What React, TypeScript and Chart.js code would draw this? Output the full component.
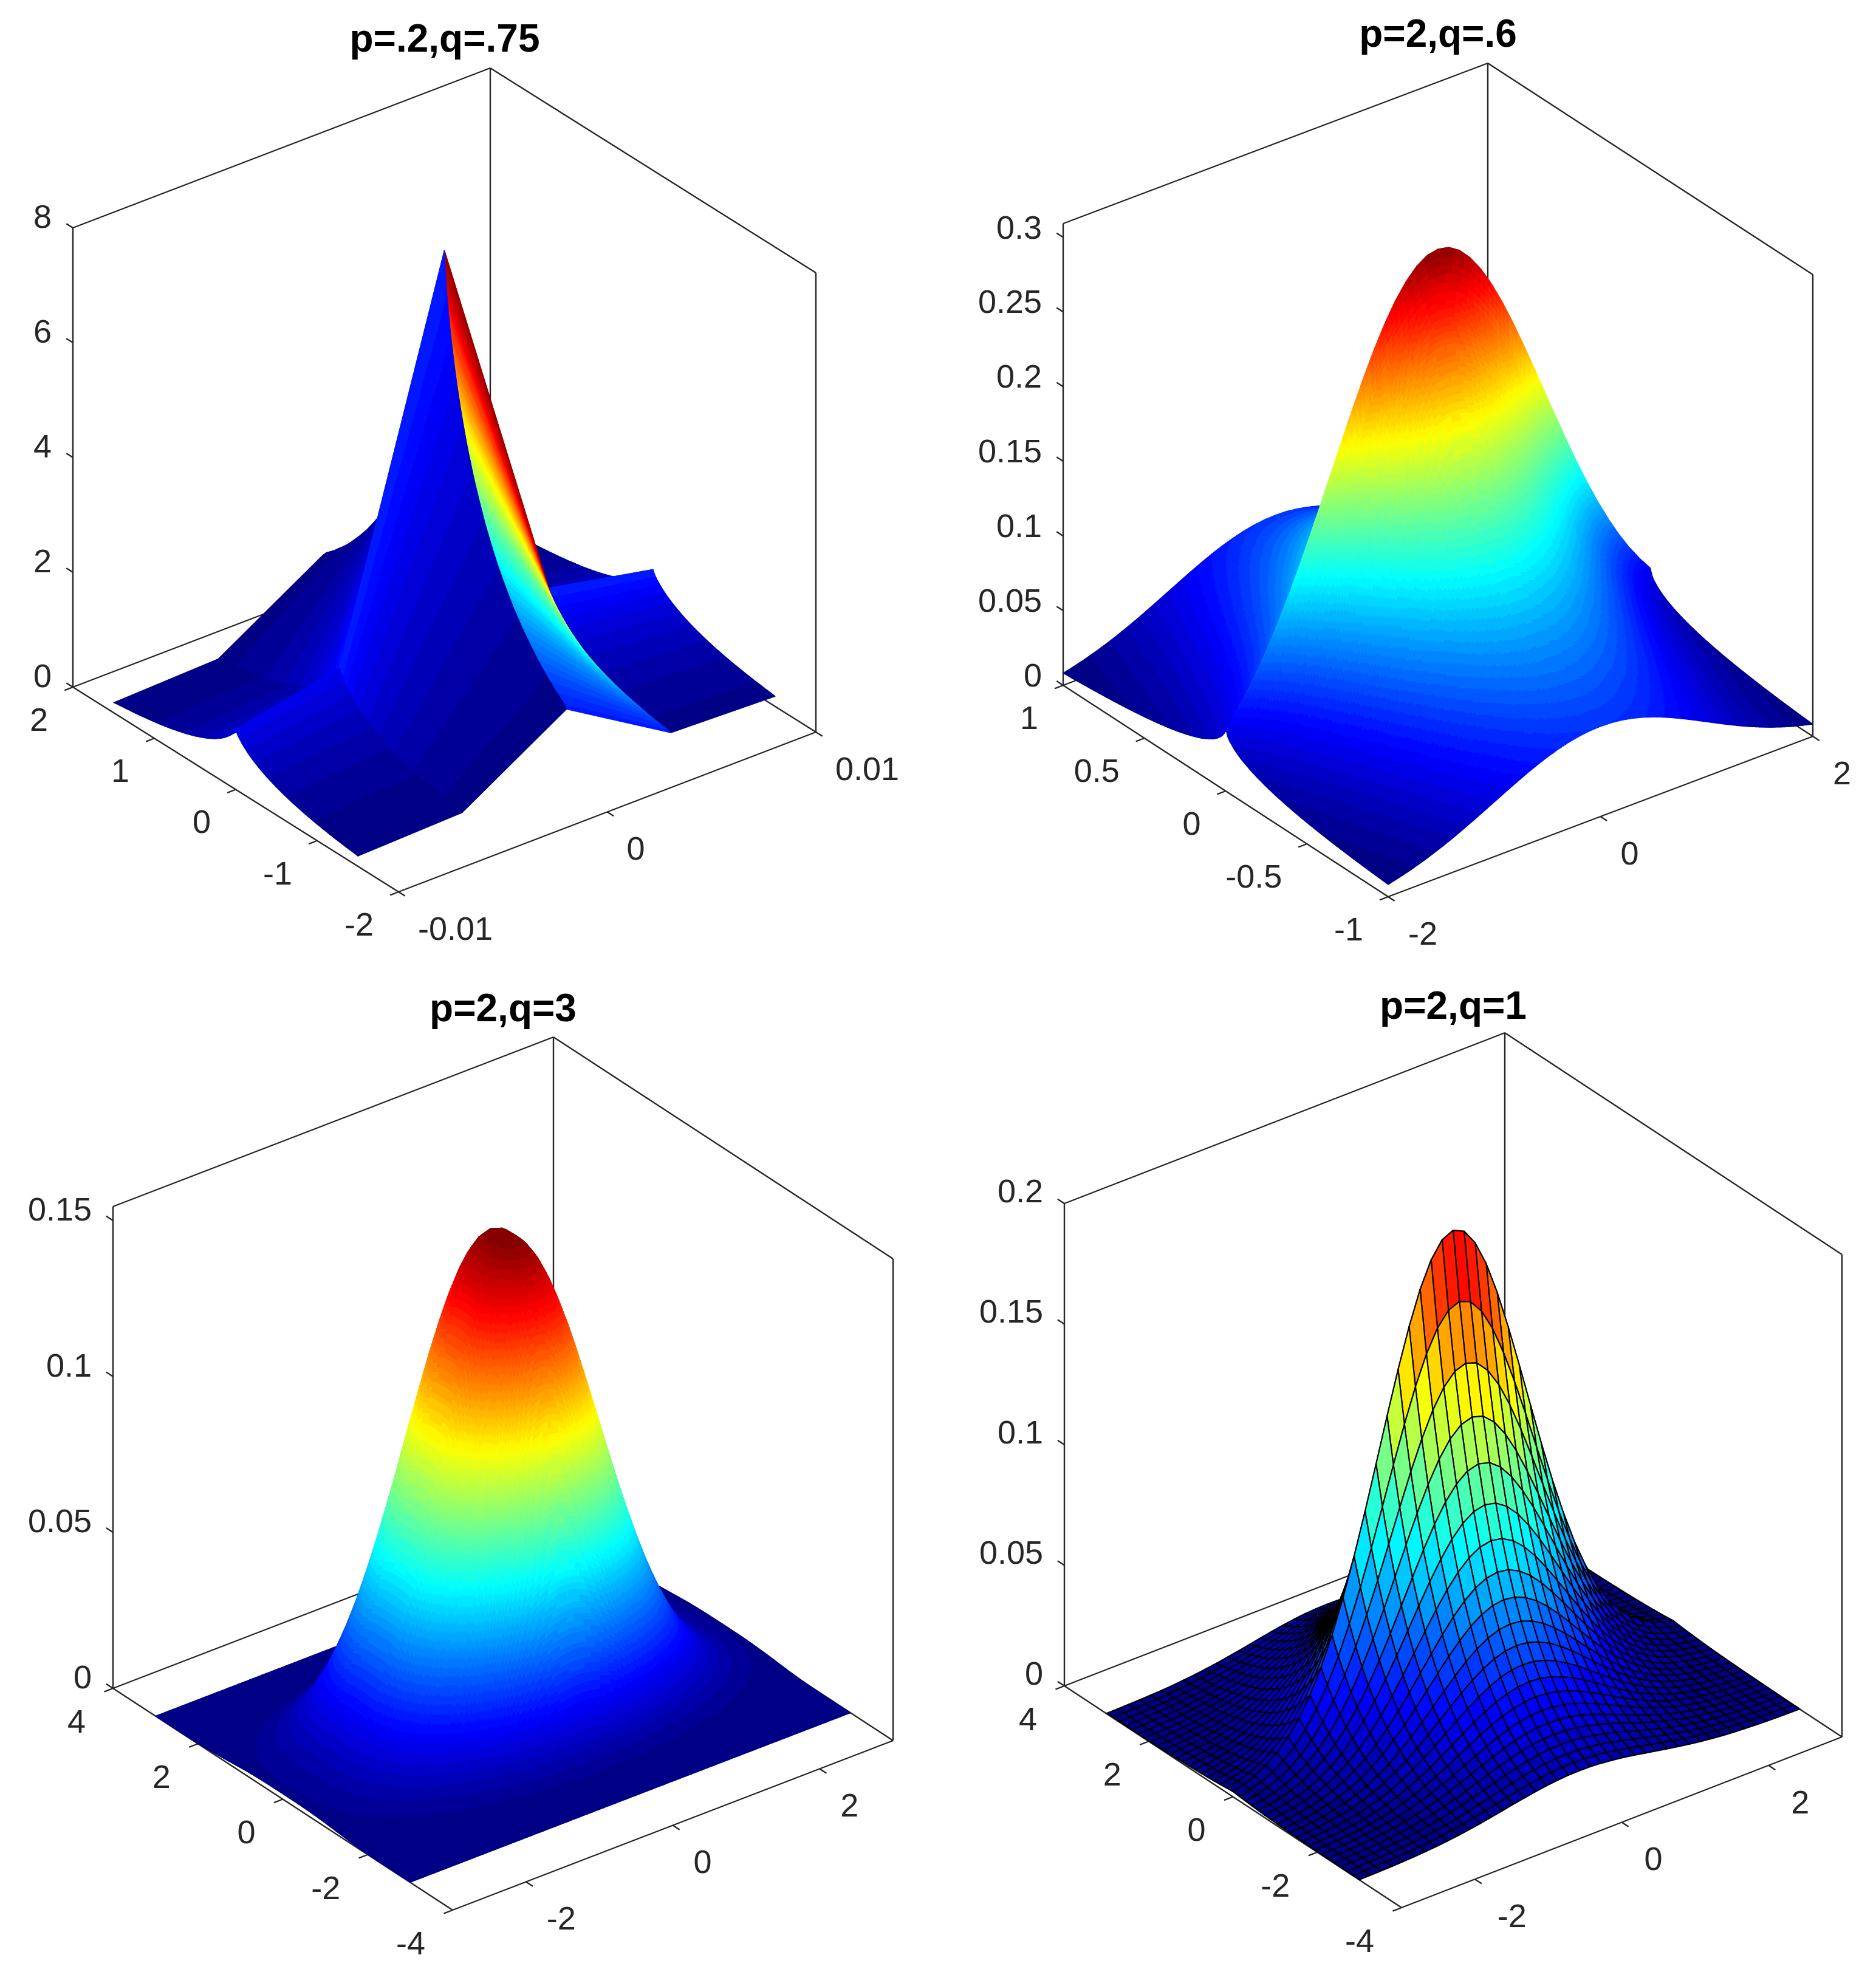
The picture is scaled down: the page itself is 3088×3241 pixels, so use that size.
import React, { useEffect, useRef } from 'react'
import { Chart, registerables } from 'chart.js'

Chart.register(...registerables)

// half profiles of each surface (x >= 0 and y >= 0, the other side mirrors)
const p1XAxis = [0, 0.005, 0.01]
const p1XShape = [8, 1.42, 1.05]
const p1YAxis = [0, 0.0125, 0.025, 0.0375, 0.05, 0.075, 0.1, 0.125, 0.15, 0.175, 0.2, 0.225, 0.25, 0.275, 0.3, 0.325, 0.35, 0.375, 0.4, 0.45, 0.5, 0.55, 0.6, 0.65, 0.7, 0.75, 0.8, 0.85, 0.9, 0.95, 1, 1.05, 1.1, 1.15, 1.2, 1.25, 1.3, 1.35, 1.4, 1.45, 1.5]
const p1YShape = [1, 0.953, 0.921, 0.895, 0.872, 0.83, 0.794, 0.761, 0.731, 0.703, 0.678, 0.654, 0.631, 0.61, 0.59, 0.572, 0.553, 0.536, 0.52, 0.49, 0.461, 0.436, 0.412, 0.39, 0.37, 0.351, 0.333, 0.316, 0.301, 0.286, 0.273, 0.26, 0.248, 0.236, 0.225, 0.215, 0.206, 0.196, 0.188, 0.18, 0.168]

const p2XAxis = [0, 0.1, 0.2, 0.3, 0.4, 0.5, 0.6, 0.7, 0.8, 0.9, 1, 1.1, 1.2, 1.3, 1.4, 1.5, 1.6, 1.7, 1.8, 1.9, 2]
const p2XShape = [0.3092, 0.3077, 0.3031, 0.2956, 0.2854, 0.2729, 0.2583, 0.242, 0.2245, 0.2062, 0.1875, 0.1689, 0.1505, 0.1328, 0.116, 0.1004, 0.086, 0.0729, 0.0612, 0.0509, 0.0418]
const p2YAxis = [0, 0.0125, 0.025, 0.05, 0.075, 0.1, 0.15, 0.2, 0.25, 0.3, 0.35, 0.4, 0.45, 0.5, 0.55, 0.6, 0.65, 0.7, 0.75, 0.8, 0.85, 0.9, 0.95, 1]
const p2YShape = [1, 0.889, 0.836, 0.763, 0.708, 0.663, 0.592, 0.537, 0.491, 0.452, 0.419, 0.389, 0.363, 0.34, 0.319, 0.3, 0.283, 0.267, 0.253, 0.239, 0.227, 0.216, 0.205, 0.195]

const p3XAxis = [0, 0.1, 0.2, 0.3, 0.4, 0.5, 0.6, 0.7, 0.8, 0.9, 1, 1.1, 1.2, 1.3, 1.4, 1.5, 1.6, 1.7, 1.8, 1.9, 2, 2.1, 2.2, 2.3, 2.4, 2.5, 2.6, 2.7, 2.8, 2.9, 3]
const p3XShape = [0.1545, 0.1537, 0.1514, 0.1477, 0.1426, 0.1363, 0.1291, 0.1209, 0.1122, 0.1031, 0.0937, 0.0844, 0.0752, 0.0664, 0.058, 0.0502, 0.043, 0.0364, 0.0306, 0.0254, 0.0209, 0.017, 0.0137, 0.011, 0.0087, 0.0068, 0.0053, 0.004, 0.0031, 0.0023, 0.0017]
const p3YAxis = p3XAxis
const p3YShape = [1, 0.9997, 0.9974, 0.9911, 0.979, 0.9596, 0.9312, 0.8928, 0.8446, 0.7862, 0.7189, 0.6445, 0.5653, 0.4843, 0.4044, 0.3284, 0.2587, 0.1975, 0.1459, 0.1037, 0.0714, 0.047, 0.0298, 0.018, 0.0104, 0.0058, 0.003, 0.0015, 0.0007, 0.0003, 0.0001]

const p4XAxis = [0, 0.15, 0.3, 0.45, 0.6, 0.75, 0.9, 1.05, 1.2, 1.35, 1.5, 1.65, 1.8, 1.95, 2.1, 2.25, 2.4, 2.55, 2.7, 2.85, 3]
const p4XShape = [0.1995, 0.1973, 0.1907, 0.1803, 0.1666, 0.1506, 0.1331, 0.115, 0.0971, 0.0802, 0.0648, 0.0511, 0.0395, 0.0298, 0.022, 0.0159, 0.0112, 0.0077, 0.0052, 0.0034, 0.0022]
const p4YAxis = p4XAxis
const p4YShape = [1, 0.8607, 0.7408, 0.6376, 0.5488, 0.4724, 0.4066, 0.3499, 0.3012, 0.2592, 0.2231, 0.192, 0.1653, 0.1423, 0.1225, 0.1054, 0.0907, 0.0781, 0.0672, 0.0578, 0.0498]

const p1XTicks = [-0.01, 0, 0.01]
const p1YTicks = [-2, -1, 0, 1, 2]
const p1ZTicks = [0, 2, 4, 6, 8]
const p2XTicks = [-2, 0, 2]
const p2YTicks = [-1, -0.5, 0, 0.5, 1]
const p2ZTicks = [0, 0.05, 0.1, 0.15, 0.2, 0.25, 0.3]
const p3XTicks = [-2, 0, 2]
const p3YTicks = [-4, -2, 0, 2, 4]
const p3ZTicks = [0, 0.05, 0.1, 0.15]
const p4XTicks = [-2, 0, 2]
const p4YTicks = [-4, -2, 0, 2, 4]
const p4ZTicks = [0, 0.05, 0.1, 0.15, 0.2]

const mirrored = (half: number[]) => [...half.slice(1).reverse(), ...half]
const mirroredAxis = (half: number[]) => [...half.slice(1).reverse().map((v) => -v), ...half]

interface Panel {
	title: string
	canvas: { left: number; top: number; width: number; height: number }
	leftCorner: number[]
	frontCorner: number[]
	rightCorner: number[]
	boxHeight: number
	xRange: number[]
	yRange: number[]
	zTop: number
	xAxis: number[]
	xShape: number[]
	yAxis: number[]
	yShape: number[]
	xTicks: number[]
	yTicks: number[]
	zTicks: number[]
	subX: number
	subY: number
	mesh: boolean
	zLabelDy: number
	yLabelDx: number
	yLabelDy: number
	xLabelDx: number
	xLabelDy: number
}

const panels: Panel[] = [
	{
		title: 'p=.2,q=.75',
		canvas: { left: -16, top: 29, width: 1496, height: 1591 },
		leftCorner: [120, 1131],
		frontCorner: [656, 1468],
		rightCorner: [1343, 1205],
		boxHeight: 756,
		xRange: [-0.01, 0.01],
		yRange: [-2, 2],
		zTop: 8,
		xAxis: p1XAxis,
		xShape: p1XShape,
		yAxis: p1YAxis,
		yShape: p1YShape,
		xTicks: p1XTicks,
		yTicks: p1YTicks,
		zTicks: p1ZTicks,
		subX: 1,
		subY: 3,
		mesh: false,
		zLabelDy: -15,
		yLabelDx: -41,
		yLabelDy: 57,
		xLabelDx: 32,
		xLabelDy: 64,
	},
	{
		title: 'p=2,q=.6',
		canvas: { left: 1606, top: 21, width: 1522, height: 1591 },
		leftCorner: [1750, 1128],
		frontCorner: [2285, 1476],
		rightCorner: [2984, 1212],
		boxHeight: 760,
		xRange: [-2, 2],
		yRange: [-1, 1],
		zTop: 0.3092,
		xAxis: p2XAxis,
		xShape: p2XShape,
		yAxis: p2YAxis,
		yShape: p2YShape,
		xTicks: p2XTicks,
		yTicks: p2YTicks,
		zTicks: p2ZTicks,
		subX: 6,
		subY: 6,
		mesh: false,
		zLabelDy: -13,
		yLabelDx: -41,
		yLabelDy: 57,
		xLabelDx: 33,
		xLabelDy: 64,
	},
	{
		title: 'p=2,q=3',
		canvas: { left: 43, top: 1625, width: 1570, height: 1616 },
		leftCorner: [186, 2779],
		frontCorner: [745, 3144],
		rightCorner: [1470, 2865],
		boxHeight: 793,
		xRange: [-3, 3],
		yRange: [-4, 4],
		zTop: 0.1545,
		xAxis: p3XAxis,
		xShape: p3XShape,
		yAxis: p3YAxis,
		yShape: p3YShape,
		xTicks: p3XTicks,
		yTicks: p3YTicks,
		zTicks: p3ZTicks,
		subX: 6,
		subY: 6,
		mesh: false,
		zLabelDy: -15,
		yLabelDx: -45,
		yLabelDy: 58,
		xLabelDx: 34,
		xLabelDy: 64,
	},
	{
		title: 'p=2,q=1',
		canvas: { left: 1602, top: 1621, width: 1580, height: 1620 },
		leftCorner: [1752, 2775],
		frontCorner: [2307, 3140],
		rightCorner: [3032, 2859],
		boxHeight: 794,
		xRange: [-3, 3],
		yRange: [-4, 4],
		zTop: 0.2,
		xAxis: p4XAxis,
		xShape: p4XShape,
		yAxis: p4YAxis,
		yShape: p4YShape,
		xTicks: p4XTicks,
		yTicks: p4YTicks,
		zTicks: p4ZTicks,
		subX: 1,
		subY: 1,
		mesh: true,
		zLabelDy: -17,
		yLabelDx: -45,
		yLabelDy: 58,
		xLabelDx: 37,
		xLabelDy: 64,
	},
]

const TITLE_SIZE = 64
const TITLE_BOX = TITLE_SIZE * 1.2
const LINE_COLOR = '#262626'

const jet = (value: number) => {
	const k = Math.min(63, Math.max(0, Math.floor(value * 64)))
	const v = (k + 0.5) / 64
	const clamp = (c: number) => Math.round(255 * Math.max(0, Math.min(1, c)))
	const r = clamp(Math.min(4 * v - 1.5, -4 * v + 4.5))
	const g = clamp(Math.min(4 * v - 0.5, -4 * v + 3.5))
	const b = clamp(Math.min(4 * v + 0.5, -4 * v + 2.5))
	return `rgb(${r},${g},${b})`
}

const makeProjector = (p: Panel) => (x: number, y: number, z: number) => {
	const u = (x - p.xRange[0]) / (p.xRange[1] - p.xRange[0])
	const v = (y - p.yRange[0]) / (p.yRange[1] - p.yRange[0])
	const w = z / p.zTop
	return {
		x: p.frontCorner[0] + u * (p.rightCorner[0] - p.frontCorner[0]) + v * (p.leftCorner[0] - p.frontCorner[0]),
		y: p.frontCorner[1] + u * (p.rightCorner[1] - p.frontCorner[1]) + v * (p.leftCorner[1] - p.frontCorner[1]) - w * p.boxHeight,
	}
}

// the axes box and its tick marks, as two point segments
const boxSegments = (p: Panel) => {
	const at = makeProjector(p)
	const [x0, x1] = p.xRange
	const [y0, y1] = p.yRange
	const zt = p.zTop
	const xLen = (x1 - x0) * 0.02
	const yLen = (y1 - y0) * 0.02
	const segments = [
		[at(x0, y1, 0), at(x0, y0, 0)],
		[at(x0, y0, 0), at(x1, y0, 0)],
		[at(x0, y1, 0), at(x1, y1, 0)],
		[at(x1, y0, 0), at(x1, y1, 0)],
		[at(x0, y1, 0), at(x0, y1, zt)],
		[at(x1, y0, 0), at(x1, y0, zt)],
		[at(x1, y1, 0), at(x1, y1, zt)],
		[at(x0, y1, zt), at(x1, y1, zt)],
		[at(x1, y1, zt), at(x1, y0, zt)],
	]
	p.xTicks.forEach((t) => segments.push([at(t, y0, 0), at(t, y0 - yLen, 0)]))
	p.yTicks.forEach((t) => segments.push([at(x0, t, 0), at(x0 - xLen, t, 0)]))
	p.zTicks.forEach((t) => segments.push([at(x0, y1, t), at(x0, y1 + yLen, t)]))
	return segments
}

const surfacePlugin = (p: Panel) => ({
	id: 'surface',
	afterDatasetsDraw(chart: Chart) {
		const ctx = chart.ctx
		const at = makeProjector(p)
		const xs = mirroredAxis(p.xAxis)
		const ys = mirroredAxis(p.yAxis)
		const fx = mirrored(p.xShape)
		const fy = mirrored(p.yShape)
		const z = (i: number, j: number) => fx[i] * fy[j]
		let lo = Infinity
		let hi = -Infinity
		xs.forEach((_, i) =>
			ys.forEach((__, j) => {
				lo = Math.min(lo, z(i, j))
				hi = Math.max(hi, z(i, j))
			})
		)
		const pixel = (x: number, y: number, h: number) => {
			const pt = at(x, y, h)
			return [chart.scales.x.getPixelForValue(pt.x), chart.scales.y.getPixelForValue(pt.y)]
		}
		ctx.save()
		ctx.lineJoin = 'round'
		// far cells first, so the nearer ones cover them
		for (let i = xs.length - 2; i >= 0; i--) {
			for (let j = ys.length - 2; j >= 0; j--) {
				const blend = (t: number, s: number) =>
					(1 - t) * ((1 - s) * z(i, j) + s * z(i, j + 1)) + t * ((1 - s) * z(i + 1, j) + s * z(i + 1, j + 1))
				for (let a = p.subX - 1; a >= 0; a--) {
					for (let b = p.subY - 1; b >= 0; b--) {
						const t0 = a / p.subX
						const t1 = (a + 1) / p.subX
						const s0 = b / p.subY
						const s1 = (b + 1) / p.subY
						const xa = xs[i] + t0 * (xs[i + 1] - xs[i])
						const xb = xs[i] + t1 * (xs[i + 1] - xs[i])
						const ya = ys[j] + s0 * (ys[j + 1] - ys[j])
						const yb = ys[j] + s1 * (ys[j + 1] - ys[j])
						const c0 = pixel(xa, ya, blend(t0, s0))
						const c1 = pixel(xb, ya, blend(t1, s0))
						const c2 = pixel(xb, yb, blend(t1, s1))
						const c3 = pixel(xa, yb, blend(t0, s1))
						const color = jet((blend(t0, s0) - lo) / (hi - lo))
						// two triangles, a folded quad would leave a gap
						ctx.beginPath()
						ctx.moveTo(c0[0], c0[1])
						ctx.lineTo(c1[0], c1[1])
						ctx.lineTo(c2[0], c2[1])
						ctx.closePath()
						ctx.moveTo(c0[0], c0[1])
						ctx.lineTo(c2[0], c2[1])
						ctx.lineTo(c3[0], c3[1])
						ctx.closePath()
						ctx.fillStyle = color
						ctx.fill()
						if (p.mesh) {
							ctx.beginPath()
							ctx.moveTo(c0[0], c0[1])
							ctx.lineTo(c1[0], c1[1])
							ctx.lineTo(c2[0], c2[1])
							ctx.lineTo(c3[0], c3[1])
							ctx.closePath()
							ctx.strokeStyle = '#000'
							ctx.lineWidth = 2.1
						} else {
							ctx.strokeStyle = color
							ctx.lineWidth = 1.2
						}
						ctx.stroke()
					}
				}
			}
		}
		ctx.restore()
	},
})

const tickLabelPlugin = (p: Panel) => ({
	id: 'tickLabels',
	afterDraw(chart: Chart) {
		const ctx = chart.ctx
		const at = makeProjector(p)
		const put = (text: string, x: number, y: number, align: CanvasTextAlign) => {
			ctx.textAlign = align
			ctx.fillText(text, chart.scales.x.getPixelForValue(x), chart.scales.y.getPixelForValue(y))
		}
		ctx.save()
		ctx.font = '54px "Liberation Sans"'
		ctx.fillStyle = LINE_COLOR
		ctx.textBaseline = 'middle'
		p.zTicks.forEach((t) => {
			const pt = at(p.xRange[0], p.yRange[1], t)
			put(String(t), pt.x - 35, pt.y + p.zLabelDy, 'right')
		})
		p.yTicks.forEach((t) => {
			const pt = at(p.xRange[0], t, 0)
			put(String(t), pt.x + p.yLabelDx, pt.y + p.yLabelDy, 'right')
		})
		p.xTicks.forEach((t) => {
			const pt = at(t, p.yRange[0], 0)
			put(String(t), pt.x + p.xLabelDx, pt.y + p.xLabelDy, 'left')
		})
		ctx.restore()
	},
})

const SurfacePanel: React.FC<{ panel: Panel }> = ({ panel }) => {
	const chartRef = useRef<HTMLCanvasElement>(null)

	useEffect(() => {
		if (!chartRef.current) return
		const { left, top, width, height } = panel.canvas
		const chart = new Chart(chartRef.current, {
			type: 'scatter',
			data: {
				datasets: boxSegments(panel).map((segment) => ({
					data: segment,
					showLine: true,
					borderColor: LINE_COLOR,
					borderWidth: 2.4,
					pointRadius: 0,
					clip: false,
				})),
			},
			options: {
				animation: false,
				responsive: false,
				devicePixelRatio: 1,
				layout: { padding: 0 },
				scales: {
					x: { type: 'linear', display: false, min: left, max: left + width },
					y: { type: 'linear', display: false, reverse: true, min: top + TITLE_BOX, max: top + height },
				},
				plugins: {
					legend: { display: false },
					tooltip: { enabled: false },
					title: {
						display: true,
						text: panel.title,
						color: '#000',
						padding: 0,
						font: { family: '"Liberation Sans"', size: TITLE_SIZE, weight: 'bold', lineHeight: 1.2 },
					},
				},
			},
			plugins: [surfacePlugin(panel), tickLabelPlugin(panel)],
		})
		return () => {
			chart.destroy()
		}
	}, [panel])

	const { left, top, width, height } = panel.canvas
	return <canvas ref={chartRef} width={width} height={height} style={{ position: 'absolute', left, top, width, height }} />
}

export default function App() {
	return (
		<div style={{ position: 'absolute', left: 0, top: 0, width: 3088, height: 3241, overflow: 'hidden', background: '#fff' }}>
			{panels.map((panel) => (
				<SurfacePanel key={panel.title} panel={panel} />
			))}
		</div>
	)
}
